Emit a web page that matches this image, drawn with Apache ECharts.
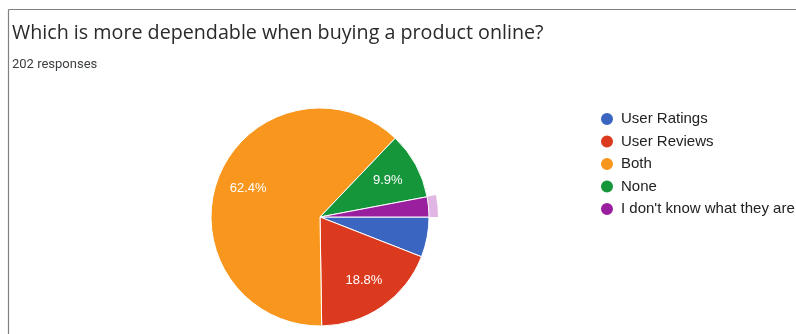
<!DOCTYPE html>
<html>
<head>
<meta charset="utf-8">
<script src="https://cdn.jsdelivr.net/npm/echarts@6/dist/echarts.min.js"></script>
<style>
  html, body { margin: 0; padding: 0; background: #fff; }
  #chart { width: 796px; height: 334px; }
</style>
</head>
<body>
<div id="chart"></div>
<script>
// Survey answers (202 responses)
const categories = ['User Ratings', 'User Reviews', 'Both', 'None', "I don't know what they are"];
const counts = [12, 38, 126, 20, 6];
const colors = ['#3a65c0', '#db3a1f', '#f8961d', '#15963a', '#9a1f9e'];
const titleText = 'Which is more dependable when buying a product online?';
const subtitleText = '202 responses';
const highlighted = "I don't know what they are";

const cx = 320, cy = 217, r = 109;

const sliceData = categories.map((name, i) => ({
  name, value: counts[i], itemStyle: { color: colors[i] }
}));

// thin halo ring around the highlighted slice
const ringData = categories.map((name, i) => ({
  name, value: counts[i],
  itemStyle: { color: name === highlighted ? 'rgba(200,120,205,0.55)' : 'rgba(0,0,0,0)' }
}));

const labelData = categories.map((name, i) => ({ name, value: counts[i] }));

const chart = echarts.init(document.getElementById('chart'), null, { renderer: 'canvas' });
chart.setOption({
  animation: false,
  backgroundColor: '#fff',
  title: [
    { text: titleText, left: 7, top: 18, padding: 5,
      textStyle: { fontFamily: 'Open Sans', fontSize: 19.7, fontWeight: 'normal', color: '#2a2a2a' } },
    { text: subtitleText, left: 7, top: 53, padding: 5,
      textStyle: { fontFamily: 'Roboto', fontSize: 13, fontWeight: 'normal', color: '#3c4043' } }
  ],
  legend: {
    orient: 'vertical',
    left: 594, top: 106,
    icon: 'circle',
    itemWidth: 14, itemHeight: 14, itemGap: 6.5,
    data: categories,
    textStyle: { fontFamily: 'Liberation Sans', fontSize: 15, lineHeight: 15, color: '#222', padding: [0, 0, 0, 2] }
  },
  graphic: [
    { type: 'line', shape: { x1: 8.5, y1: 9.5, x2: 796, y2: 9.5 }, style: { stroke: '#808080', lineWidth: 1.2 }, silent: true },
    { type: 'line', shape: { x1: 8.5, y1: 9.5, x2: 8.5, y2: 334 }, style: { stroke: '#808080', lineWidth: 1.2 }, silent: true }
  ],
  series: [
    {
      type: 'pie', center: [cx, cy], radius: [0, r],
      startAngle: 0, clockwise: true, silent: true,
      data: sliceData,
      itemStyle: { borderColor: '#fff', borderWidth: 1 },
      label: { show: false }, labelLine: { show: false }
    },
    {
      type: 'pie', center: [cx, cy], radius: [r, r + 9],
      startAngle: 0, clockwise: true, silent: true,
      data: ringData, legendHoverLink: false,
      label: { show: false }, labelLine: { show: false }, z: 1
    },
    {
      type: 'pie', center: [cx, cy], radius: [0, r * 1.36],
      startAngle: 0, clockwise: true, silent: true,
      data: labelData, legendHoverLink: false,
      itemStyle: { color: 'rgba(0,0,0,0)' },
      label: {
        show: true, position: 'inside',
        fontFamily: 'Liberation Sans', fontSize: 13, color: '#fff',
        formatter: p => p.percent > 7 ? p.percent.toFixed(1) + '%' : ''
      },
      labelLine: { show: false }, z: 3
    }
  ]
});
</script>
</body>
</html>
